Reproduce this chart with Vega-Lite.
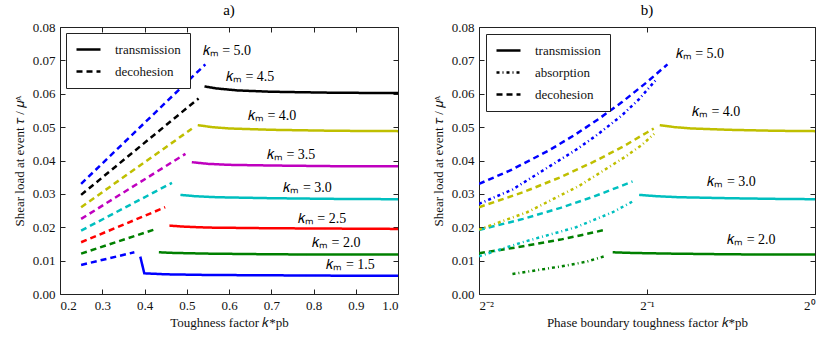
{
  "$schema": "https://vega.github.io/schema/vega-lite/v6.json",
  "padding": {"left": 12, "top": 2, "right": 5, "bottom": 5},
  "resolve": {"scale": {"strokeDash": "independent", "color": "independent"}, "legend": {"strokeDash": "independent"}},
  "config": {
    "font": "Liberation Serif",
    "view": {"stroke": "#222222", "strokeWidth": 1},
    "axis": {"grid": false, "domain": false, "tickColor": "#222222", "tickSize": -5, "labelPadding": 10, "labelFont": "Liberation Serif", "labelFontSize": 13, "labelColor": "#111111", "titleFont": "Liberation Serif", "titleFontSize": 13, "titleFontWeight": "normal", "titleColor": "#111111"},
    "title": {"font": "Liberation Serif", "fontSize": 15, "fontWeight": "normal", "offset": 3},
    "legend": {"labelFont": "Liberation Serif", "labelFontSize": 13, "labelColor": "#111111"},
    "text": {"font": "Liberation Serif"},
    "concat": {"spacing": 32}
  },
  "datasets": {
    "left": [
      {"s": "d5.0", "k": "5.0", "kind": "decohesion", "x": 0.25, "y": 0.0330},
      {"s": "d5.0", "k": "5.0", "kind": "decohesion", "x": 0.544, "y": 0.0688},
      {"s": "d4.5", "k": "4.5", "kind": "decohesion", "x": 0.25, "y": 0.0297},
      {"s": "d4.5", "k": "4.5", "kind": "decohesion", "x": 0.528, "y": 0.0586},
      {"s": "d4.0", "k": "4.0", "kind": "decohesion", "x": 0.25, "y": 0.0260},
      {"s": "d4.0", "k": "4.0", "kind": "decohesion", "x": 0.512, "y": 0.0495},
      {"s": "d3.5", "k": "3.5", "kind": "decohesion", "x": 0.25, "y": 0.0225},
      {"s": "d3.5", "k": "3.5", "kind": "decohesion", "x": 0.497, "y": 0.0420},
      {"s": "d3.0", "k": "3.0", "kind": "decohesion", "x": 0.25, "y": 0.0190},
      {"s": "d3.0", "k": "3.0", "kind": "decohesion", "x": 0.465, "y": 0.0333},
      {"s": "d2.5", "k": "2.5", "kind": "decohesion", "x": 0.25, "y": 0.0155},
      {"s": "d2.5", "k": "2.5", "kind": "decohesion", "x": 0.449, "y": 0.0260},
      {"s": "d2.0", "k": "2.0", "kind": "decohesion", "x": 0.25, "y": 0.0121},
      {"s": "d2.0", "k": "2.0", "kind": "decohesion", "x": 0.423, "y": 0.0193},
      {"s": "d1.5", "k": "1.5", "kind": "decohesion", "x": 0.25, "y": 0.0087},
      {"s": "d1.5", "k": "1.5", "kind": "decohesion", "x": 0.376, "y": 0.0125},
      {"s": "t4.5", "k": "4.5", "kind": "transmission", "x": 0.542, "y": 0.0622},
      {"s": "t4.5", "k": "4.5", "kind": "transmission", "x": 0.57, "y": 0.0616},
      {"s": "t4.5", "k": "4.5", "kind": "transmission", "x": 0.62, "y": 0.0610},
      {"s": "t4.5", "k": "4.5", "kind": "transmission", "x": 0.7, "y": 0.0606},
      {"s": "t4.5", "k": "4.5", "kind": "transmission", "x": 0.85, "y": 0.0603},
      {"s": "t4.5", "k": "4.5", "kind": "transmission", "x": 1.0, "y": 0.0602},
      {"s": "t4.0", "k": "4.0", "kind": "transmission", "x": 0.526, "y": 0.0506},
      {"s": "t4.0", "k": "4.0", "kind": "transmission", "x": 0.56, "y": 0.0500},
      {"s": "t4.0", "k": "4.0", "kind": "transmission", "x": 0.6, "y": 0.0496},
      {"s": "t4.0", "k": "4.0", "kind": "transmission", "x": 0.7, "y": 0.0492},
      {"s": "t4.0", "k": "4.0", "kind": "transmission", "x": 0.85, "y": 0.0489},
      {"s": "t4.0", "k": "4.0", "kind": "transmission", "x": 1.0, "y": 0.0488},
      {"s": "t3.5", "k": "3.5", "kind": "transmission", "x": 0.512, "y": 0.0395},
      {"s": "t3.5", "k": "3.5", "kind": "transmission", "x": 0.55, "y": 0.0390},
      {"s": "t3.5", "k": "3.5", "kind": "transmission", "x": 0.6, "y": 0.0387},
      {"s": "t3.5", "k": "3.5", "kind": "transmission", "x": 0.7, "y": 0.0385},
      {"s": "t3.5", "k": "3.5", "kind": "transmission", "x": 0.85, "y": 0.0383},
      {"s": "t3.5", "k": "3.5", "kind": "transmission", "x": 1.0, "y": 0.0383},
      {"s": "t3.0", "k": "3.0", "kind": "transmission", "x": 0.485, "y": 0.0297},
      {"s": "t3.0", "k": "3.0", "kind": "transmission", "x": 0.52, "y": 0.0293},
      {"s": "t3.0", "k": "3.0", "kind": "transmission", "x": 0.57, "y": 0.0290},
      {"s": "t3.0", "k": "3.0", "kind": "transmission", "x": 0.7, "y": 0.0287},
      {"s": "t3.0", "k": "3.0", "kind": "transmission", "x": 0.85, "y": 0.0285},
      {"s": "t3.0", "k": "3.0", "kind": "transmission", "x": 1.0, "y": 0.0284},
      {"s": "t2.5", "k": "2.5", "kind": "transmission", "x": 0.459, "y": 0.0205},
      {"s": "t2.5", "k": "2.5", "kind": "transmission", "x": 0.49, "y": 0.0202},
      {"s": "t2.5", "k": "2.5", "kind": "transmission", "x": 0.55, "y": 0.0199},
      {"s": "t2.5", "k": "2.5", "kind": "transmission", "x": 0.7, "y": 0.0197},
      {"s": "t2.5", "k": "2.5", "kind": "transmission", "x": 0.85, "y": 0.0196},
      {"s": "t2.5", "k": "2.5", "kind": "transmission", "x": 1.0, "y": 0.0195},
      {"s": "t2.0", "k": "2.0", "kind": "transmission", "x": 0.434, "y": 0.0125},
      {"s": "t2.0", "k": "2.0", "kind": "transmission", "x": 0.47, "y": 0.0123},
      {"s": "t2.0", "k": "2.0", "kind": "transmission", "x": 0.55, "y": 0.0121},
      {"s": "t2.0", "k": "2.0", "kind": "transmission", "x": 0.7, "y": 0.0119},
      {"s": "t2.0", "k": "2.0", "kind": "transmission", "x": 0.85, "y": 0.0118},
      {"s": "t2.0", "k": "2.0", "kind": "transmission", "x": 1.0, "y": 0.0118},
      {"s": "t1.5", "k": "1.5", "kind": "transmission", "x": 0.39, "y": 0.0112},
      {"s": "t1.5", "k": "1.5", "kind": "transmission", "x": 0.3995, "y": 0.0062},
      {"s": "t1.5", "k": "1.5", "kind": "transmission", "x": 0.45, "y": 0.0059},
      {"s": "t1.5", "k": "1.5", "kind": "transmission", "x": 0.55, "y": 0.0057},
      {"s": "t1.5", "k": "1.5", "kind": "transmission", "x": 0.7, "y": 0.0056},
      {"s": "t1.5", "k": "1.5", "kind": "transmission", "x": 0.85, "y": 0.0055},
      {"s": "t1.5", "k": "1.5", "kind": "transmission", "x": 1.0, "y": 0.0055}
    ],
    "leftLabels": [
      {"label": "𝑘ₘ = 5.0", "x": 0.595, "y": 0.0728},
      {"label": "𝑘ₘ = 4.5", "x": 0.65, "y": 0.0651},
      {"label": "𝑘ₘ = 4.0", "x": 0.702, "y": 0.0532},
      {"label": "𝑘ₘ = 3.5", "x": 0.747, "y": 0.0417},
      {"label": "𝑘ₘ = 3.0", "x": 0.786, "y": 0.0317},
      {"label": "𝑘ₘ = 2.5", "x": 0.820, "y": 0.0225},
      {"label": "𝑘ₘ = 2.0", "x": 0.854, "y": 0.0152},
      {"label": "𝑘ₘ = 1.5", "x": 0.888, "y": 0.0087}
    ],
    "right": [
      {"s": "d5.0", "k": "5.0", "kind": "decohesion", "x": 0.25, "y": 0.0330},
      {"s": "d5.0", "k": "5.0", "kind": "decohesion", "x": 0.285, "y": 0.0371},
      {"s": "d5.0", "k": "5.0", "kind": "decohesion", "x": 0.3335, "y": 0.0430},
      {"s": "d5.0", "k": "5.0", "kind": "decohesion", "x": 0.373, "y": 0.0479},
      {"s": "d5.0", "k": "5.0", "kind": "decohesion", "x": 0.41, "y": 0.0525},
      {"s": "d5.0", "k": "5.0", "kind": "decohesion", "x": 0.451, "y": 0.0575},
      {"s": "d5.0", "k": "5.0", "kind": "decohesion", "x": 0.50, "y": 0.0635},
      {"s": "d5.0", "k": "5.0", "kind": "decohesion", "x": 0.544, "y": 0.0688},
      {"s": "d4.0", "k": "4.0", "kind": "decohesion", "x": 0.25, "y": 0.0260},
      {"s": "d4.0", "k": "4.0", "kind": "decohesion", "x": 0.30, "y": 0.0305},
      {"s": "d4.0", "k": "4.0", "kind": "decohesion", "x": 0.35, "y": 0.0350},
      {"s": "d4.0", "k": "4.0", "kind": "decohesion", "x": 0.40, "y": 0.0395},
      {"s": "d4.0", "k": "4.0", "kind": "decohesion", "x": 0.45, "y": 0.0439},
      {"s": "d4.0", "k": "4.0", "kind": "decohesion", "x": 0.50, "y": 0.0484},
      {"s": "d4.0", "k": "4.0", "kind": "decohesion", "x": 0.514, "y": 0.0496},
      {"s": "d3.0", "k": "3.0", "kind": "decohesion", "x": 0.25, "y": 0.0192},
      {"s": "d3.0", "k": "3.0", "kind": "decohesion", "x": 0.30, "y": 0.0225},
      {"s": "d3.0", "k": "3.0", "kind": "decohesion", "x": 0.35, "y": 0.0258},
      {"s": "d3.0", "k": "3.0", "kind": "decohesion", "x": 0.40, "y": 0.0291},
      {"s": "d3.0", "k": "3.0", "kind": "decohesion", "x": 0.45, "y": 0.0324},
      {"s": "d3.0", "k": "3.0", "kind": "decohesion", "x": 0.471, "y": 0.0337},
      {"s": "d2.0", "k": "2.0", "kind": "decohesion", "x": 0.25, "y": 0.0122},
      {"s": "d2.0", "k": "2.0", "kind": "decohesion", "x": 0.30, "y": 0.0143},
      {"s": "d2.0", "k": "2.0", "kind": "decohesion", "x": 0.35, "y": 0.0163},
      {"s": "d2.0", "k": "2.0", "kind": "decohesion", "x": 0.40, "y": 0.0184},
      {"s": "d2.0", "k": "2.0", "kind": "decohesion", "x": 0.422, "y": 0.0193},
      {"s": "a5.0", "k": "5.0", "kind": "absorption", "x": 0.25, "y": 0.0270},
      {"s": "a5.0", "k": "5.0", "kind": "absorption", "x": 0.287, "y": 0.0313},
      {"s": "a5.0", "k": "5.0", "kind": "absorption", "x": 0.329, "y": 0.0375},
      {"s": "a5.0", "k": "5.0", "kind": "absorption", "x": 0.373, "y": 0.0432},
      {"s": "a5.0", "k": "5.0", "kind": "absorption", "x": 0.405, "y": 0.0474},
      {"s": "a5.0", "k": "5.0", "kind": "absorption", "x": 0.45, "y": 0.0534},
      {"s": "a5.0", "k": "5.0", "kind": "absorption", "x": 0.484, "y": 0.0584},
      {"s": "a5.0", "k": "5.0", "kind": "absorption", "x": 0.521, "y": 0.0645},
      {"s": "a4.0", "k": "4.0", "kind": "absorption", "x": 0.25, "y": 0.0193},
      {"s": "a4.0", "k": "4.0", "kind": "absorption", "x": 0.305, "y": 0.0245},
      {"s": "a4.0", "k": "4.0", "kind": "absorption", "x": 0.378, "y": 0.0324},
      {"s": "a4.0", "k": "4.0", "kind": "absorption", "x": 0.458, "y": 0.0412},
      {"s": "a4.0", "k": "4.0", "kind": "absorption", "x": 0.49, "y": 0.0447},
      {"s": "a4.0", "k": "4.0", "kind": "absorption", "x": 0.515, "y": 0.0480},
      {"s": "a3.0", "k": "3.0", "kind": "absorption", "x": 0.25, "y": 0.0113},
      {"s": "a3.0", "k": "3.0", "kind": "absorption", "x": 0.299, "y": 0.0155},
      {"s": "a3.0", "k": "3.0", "kind": "absorption", "x": 0.373, "y": 0.0200},
      {"s": "a3.0", "k": "3.0", "kind": "absorption", "x": 0.434, "y": 0.0245},
      {"s": "a3.0", "k": "3.0", "kind": "absorption", "x": 0.471, "y": 0.0277},
      {"s": "a2.0", "k": "2.0", "kind": "absorption", "x": 0.287, "y": 0.0060},
      {"s": "a2.0", "k": "2.0", "kind": "absorption", "x": 0.352, "y": 0.0083},
      {"s": "a2.0", "k": "2.0", "kind": "absorption", "x": 0.39, "y": 0.0097},
      {"s": "a2.0", "k": "2.0", "kind": "absorption", "x": 0.421, "y": 0.0114},
      {"s": "t4.0", "k": "4.0", "kind": "transmission", "x": 0.527, "y": 0.0506},
      {"s": "t4.0", "k": "4.0", "kind": "transmission", "x": 0.56, "y": 0.0500},
      {"s": "t4.0", "k": "4.0", "kind": "transmission", "x": 0.6, "y": 0.0496},
      {"s": "t4.0", "k": "4.0", "kind": "transmission", "x": 0.7, "y": 0.0492},
      {"s": "t4.0", "k": "4.0", "kind": "transmission", "x": 0.85, "y": 0.0489},
      {"s": "t4.0", "k": "4.0", "kind": "transmission", "x": 1.0, "y": 0.0488},
      {"s": "t3.0", "k": "3.0", "kind": "transmission", "x": 0.484, "y": 0.0297},
      {"s": "t3.0", "k": "3.0", "kind": "transmission", "x": 0.52, "y": 0.0293},
      {"s": "t3.0", "k": "3.0", "kind": "transmission", "x": 0.57, "y": 0.0290},
      {"s": "t3.0", "k": "3.0", "kind": "transmission", "x": 0.7, "y": 0.0287},
      {"s": "t3.0", "k": "3.0", "kind": "transmission", "x": 0.85, "y": 0.0285},
      {"s": "t3.0", "k": "3.0", "kind": "transmission", "x": 1.0, "y": 0.0284},
      {"s": "t2.0", "k": "2.0", "kind": "transmission", "x": 0.434, "y": 0.0125},
      {"s": "t2.0", "k": "2.0", "kind": "transmission", "x": 0.47, "y": 0.0123},
      {"s": "t2.0", "k": "2.0", "kind": "transmission", "x": 0.55, "y": 0.0121},
      {"s": "t2.0", "k": "2.0", "kind": "transmission", "x": 0.7, "y": 0.0119},
      {"s": "t2.0", "k": "2.0", "kind": "transmission", "x": 0.85, "y": 0.0118},
      {"s": "t2.0", "k": "2.0", "kind": "transmission", "x": 1.0, "y": 0.0118}
    ],
    "rightLabels": [
      {"label": "𝑘ₘ = 5.0", "x": 0.622, "y": 0.0719},
      {"label": "𝑘ₘ = 4.0", "x": 0.665, "y": 0.0546},
      {"label": "𝑘ₘ = 3.0", "x": 0.709, "y": 0.0336},
      {"label": "𝑘ₘ = 2.0", "x": 0.769, "y": 0.0162}
    ]
  },
  "hconcat": [
    {
      "width": 338,
      "height": 267,
      "title": "a)",
      "resolve": {"axis": {"x": "independent", "y": "independent"}},
      "layer": [
        {
          "data": {"name": "left"},
          "mark": {"type": "line", "strokeWidth": 2.5, "clip": true},
          "encoding": {
            "x": {"field": "x", "type": "quantitative", "scale": {"domain": [0.2, 1.0], "nice": false}, "axis": {"orient": "bottom", "values": [0.2, 0.3, 0.4, 0.5, 0.6, 0.7, 0.8, 0.9, 1.0], "format": ".1f", "title": "Toughness factor 𝑘*pb", "titlePadding": 4}},
            "y": {"field": "y", "type": "quantitative", "scale": {"domain": [0, 0.08], "nice": false}, "axis": {"orient": "left", "values": [0, 0.01, 0.02, 0.03, 0.04, 0.05, 0.06, 0.07, 0.08], "format": ".2f", "title": "Shear load at event 𝜏 / 𝜇ᴬ", "titlePadding": 6}},
            "color": {"field": "k", "type": "nominal", "scale": {"domain": ["1.5", "2.0", "2.5", "3.0", "3.5", "4.0", "4.5", "5.0"], "range": ["#0000ff", "#008000", "#ff0000", "#00bfbf", "#bf00bf", "#bfbf00", "#000000", "#0000ff"]}, "legend": null},
            "strokeDash": {"field": "kind", "type": "nominal", "scale": {"domain": ["transmission", "decohesion"], "range": [[1, 0], [6, 4]]}, "legend": {"title": null, "orient": "top-left", "offset": 6, "padding": 9, "fillColor": "white", "strokeColor": "#222222", "symbolType": "M-1,0H3", "symbolSize": 144, "symbolStrokeWidth": 2.5, "symbolStrokeColor": "black", "labelOffset": 25, "rowPadding": 7}},
            "detail": {"field": "s", "type": "nominal"}
          }
        },
        {
          "data": {"name": "leftLabels"},
          "mark": {"type": "text", "fontSize": 14, "font": "Liberation Serif"},
          "encoding": {
            "x": {"field": "x", "type": "quantitative", "scale": {"domain": [0.2, 1.0], "nice": false}, "axis": null},
            "y": {"field": "y", "type": "quantitative", "scale": {"domain": [0, 0.08], "nice": false}, "axis": null},
            "text": {"field": "label"}
          }
        },
        {
          "data": {"name": "leftLabels"},
          "mark": {"type": "point", "opacity": 0},
          "encoding": {
            "x": {"field": "x", "type": "quantitative", "scale": {"domain": [0.2, 1.0], "nice": false}, "axis": {"orient": "top", "values": [0.2, 0.3, 0.4, 0.5, 0.6, 0.7, 0.8, 0.9, 1.0], "labels": false, "title": null}},
            "y": {"field": "y", "type": "quantitative", "scale": {"domain": [0, 0.08], "nice": false}, "axis": {"orient": "right", "values": [0, 0.01, 0.02, 0.03, 0.04, 0.05, 0.06, 0.07, 0.08], "labels": false, "title": null}}
          }
        }
      ]
    },
    {
      "width": 336,
      "height": 267,
      "title": "b)",
      "resolve": {"axis": {"x": "independent", "y": "independent"}},
      "layer": [
        {
          "data": {"name": "right"},
          "mark": {"type": "line", "strokeWidth": 2.5, "clip": true},
          "encoding": {
            "x": {"field": "x", "type": "quantitative", "scale": {"type": "log", "base": 2, "domain": [0.25, 1.0], "nice": false}, "axis": {"orient": "bottom", "values": [0.25, 0.5, 1.0], "labelExpr": "datum.value < 0.3 ? '2⁻²' : datum.value < 0.7 ? '2⁻¹' : '2⁰'", "title": "Phase boundary toughness factor 𝑘*pb", "titlePadding": 4}},
            "y": {"field": "y", "type": "quantitative", "scale": {"domain": [0, 0.08], "nice": false}, "axis": {"orient": "left", "values": [0, 0.01, 0.02, 0.03, 0.04, 0.05, 0.06, 0.07, 0.08], "format": ".2f", "title": "Shear load at event 𝜏 / 𝜇ᴬ", "titlePadding": 6}},
            "color": {"field": "k", "type": "nominal", "scale": {"domain": ["1.5", "2.0", "2.5", "3.0", "3.5", "4.0", "4.5", "5.0"], "range": ["#0000ff", "#008000", "#ff0000", "#00bfbf", "#bf00bf", "#bfbf00", "#000000", "#0000ff"]}, "legend": null},
            "strokeDash": {"field": "kind", "type": "nominal", "scale": {"domain": ["transmission", "absorption", "decohesion"], "range": [[1, 0], [3, 3, 1, 3], [6, 4]]}, "legend": {"title": null, "orient": "top-left", "offset": 7, "padding": 9, "fillColor": "white", "strokeColor": "#222222", "symbolType": "M-1,0H3", "symbolSize": 144, "symbolStrokeWidth": 2.5, "symbolStrokeColor": "black", "labelOffset": 25, "rowPadding": 7}},
            "detail": {"field": "s", "type": "nominal"}
          }
        },
        {
          "data": {"name": "rightLabels"},
          "mark": {"type": "text", "fontSize": 14, "font": "Liberation Serif"},
          "encoding": {
            "x": {"field": "x", "type": "quantitative", "scale": {"type": "log", "base": 2, "domain": [0.25, 1.0], "nice": false}, "axis": null},
            "y": {"field": "y", "type": "quantitative", "scale": {"domain": [0, 0.08], "nice": false}, "axis": null},
            "text": {"field": "label"}
          }
        },
        {
          "data": {"name": "rightLabels"},
          "mark": {"type": "point", "opacity": 0},
          "encoding": {
            "x": {"field": "x", "type": "quantitative", "scale": {"type": "log", "base": 2, "domain": [0.25, 1.0], "nice": false}, "axis": {"orient": "top", "values": [0.25, 0.5, 1.0], "labels": false, "title": null}},
            "y": {"field": "y", "type": "quantitative", "scale": {"domain": [0, 0.08], "nice": false}, "axis": {"orient": "right", "values": [0, 0.01, 0.02, 0.03, 0.04, 0.05, 0.06, 0.07, 0.08], "labels": false, "title": null}}
          }
        }
      ]
    }
  ]
}
